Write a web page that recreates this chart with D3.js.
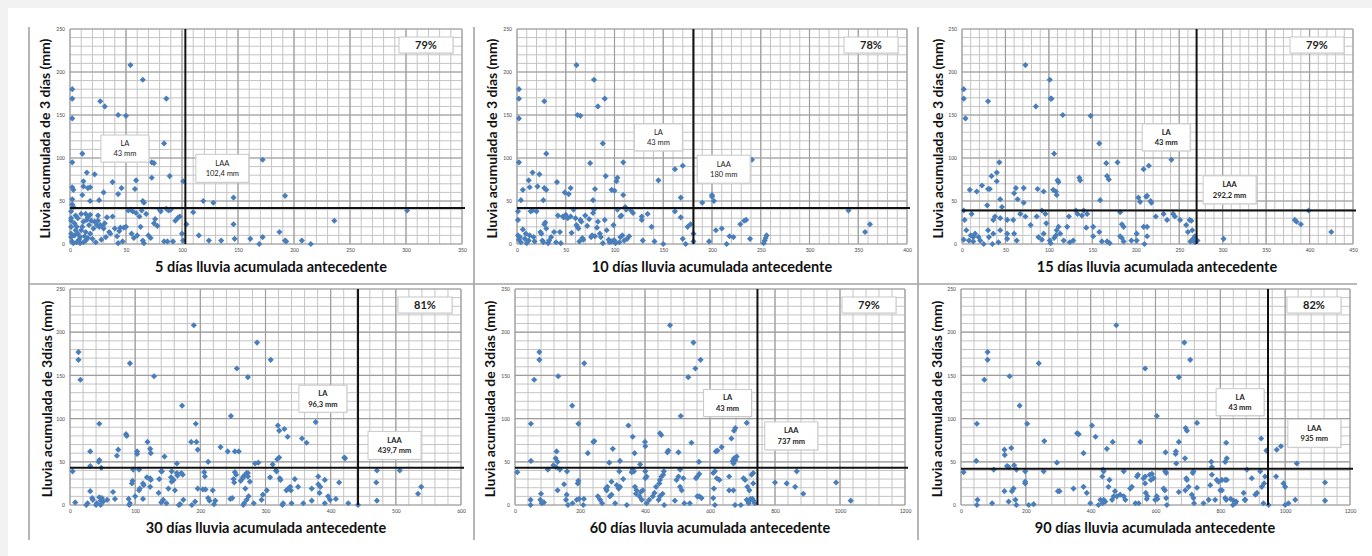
<!DOCTYPE html>
<html lang="es">
<head>
<meta charset="utf-8">
<script src="https://d3js.org/d3.v7.min.js"></script>
<style>
  body { margin: 0; background: #fff; }
  text { font-family: Lato, "Open Sans", sans-serif; }
</style>
</head>
<body>
<script>
// ---- datos ----
const xTitles = [
  "5 días lluvia acumulada antecedente",
  "10 días lluvia acumulada antecedente",
  "15 días lluvia acumulada antecedente",
  "30 días lluvia acumulada antecedente",
  "60 días lluvia acumulada antecedente",
  "90 días lluvia acumulada antecedente"
];
const yTitles = [
  "Lluvia acumulada de 3 días (mm)",
  "Lluvia acumulada de 3 días (mm)",
  "Lluvia acumulada de 3 días (mm)",
  "Lluvia acumulada de 3días (mm)",
  "Lluvia acumulada de 3días (mm)",
  "Lluvia acumulada de 3días (mm)"
];
const xMaxes = [350, 400, 450, 600, 1200, 1200];
const xMajor = [50, 50, 50, 100, 200, 200];
const xMinor = [10, 10, 10, 20, 40, 40];
const yMax = 250;
const laLines = [42, 42, 39, 43, 43, 42];
const laaLines = [103, 181, 270, 442, 746, 947];
const laTexts = ["43 mm", "43 mm", "43 mm", "96,3 mm", "43 mm", "43 mm"];
const laaTexts = ["102,4 mm", "180 mm", "292,2 mm", "439,7 mm", "737 mm", "935 mm"];
const percents = ["79%", "78%", "79%", "81%", "79%", "82%"];

const pts5 = [
  [54,208],[65,191],[2,180],[2,169],[27,166],[31,160],[86,169],[2,146],[43,150],[50,149],
  [84,117],[11,105],[2,95],[73,95],[75,94],[172,98],[101,73],[89,79],[73,77],[15,83],
  [22,81],[12,73],[38,72],[59,74],[2,66],[3,63],[12,67],[16,65],[18,66],[46,65],
  [30,60],[58,64],[43,58],[11,57],[65,50],[66,48],[26,51],[18,50],[2,52],[2,46],
  [119,50],[128,48],[146,54],[192,56],[301,39],[236,27],[110,37],[104,23],[146,23],[187,14],
  [115,10],[124,4],[135,4],[147,6],[161,6],[169,0],[172,8],[192,4],[193,3],[207,4],
  [215,0],[101,4],[100,12],
  [1,38],[1,30],[1,27],[1,20],[1,12],[1,8],[2,3],[3,1],[4,10],[5,16],[6,20],[7,12],[8,5],
  [9,8],[10,16],[11,20],[12,2],[12,26],[13,9],[14,14],[15,28],[16,31],[17,22],[18,12],
  [19,27],[20,6],[21,18],[22,26],[23,2],[24,22],[25,27],[26,20],[27,22],[28,5],[29,20],
  [30,18],[31,24],[32,8],[33,31],[35,14],[36,12],[38,32],[40,18],[42,9],[43,1],[44,15],
  [45,19],[47,3],[48,19],[50,20],[52,39],[54,40],[55,12],[56,38],[57,7],[59,36],[60,10],
  [62,32],[63,20],[64,39],[65,4],[66,1],[68,35],[70,10],[72,7],[75,24],[76,29],[78,21],
  [80,40],[81,38],[84,3],[86,41],[87,3],[88,39],[90,40],[92,3],[94,27],[96,30],[98,32],
  [3,43],[5,33],[10,35],[14,35],[18,34],[25,33],[6,2],[9,1],[14,4],[16,7],[4,24],[7,30]
];
const pts10 = [
  [61,208],[79,191],[2,180],[2,169],[28,166],[83,160],[90,169],[2,146],[62,150],[65,149],
  [88,117],[30,105],[2,95],[75,94],[109,95],[241,98],[91,79],[103,77],[102,73],[80,64],
  [145,74],[162,87],[170,91],[16,83],[23,81],[12,74],[41,72],[6,63],[13,66],[21,67],
  [28,65],[30,63],[49,60],[53,58],[55,65],[97,63],[100,62],[109,57],[78,51],[27,51],
  [4,51],[168,54],[200,55],[200,57],[202,50],[190,48],[340,39],[362,23],[357,14],[233,27],
  [235,28],[229,23],[210,18],[204,16],[239,6],[218,9],[222,8],[215,0],[197,3],[254,4],
  [255,7],[256,10],[253,1],[181,3],[181,12],[178,23],[175,20],[168,31],[162,38],[170,6],
  [173,0],[150,0],[141,3],[138,20],[128,28],[128,32],[129,4],[117,39],[119,36],[134,35],
  [111,43],[106,32],[99,22],[106,8],[115,9],
  [1,38],[1,28],[1,10],[2,5],[3,8],[4,2],[6,17],[8,6],[9,12],[10,1],[12,4],[13,10],
  [14,38],[16,39],[17,8],[18,3],[20,38],[24,14],[25,12],[26,4],[27,2],[28,23],[29,25],
  [30,18],[32,1],[33,4],[35,8],[38,14],[40,2],[42,33],[44,14],[45,1],[47,32],[48,31],
  [50,34],[52,30],[55,32],[56,13],[58,40],[60,30],[61,22],[62,20],[63,18],[64,3],[65,28],
  [66,26],[67,7],[68,5],[70,33],[72,21],[74,29],[76,8],[77,10],[78,36],[79,40],[80,9],
  [82,19],[83,26],[85,12],[86,8],[88,1],[90,28],[92,16],[94,5],[95,2],[97,3],[99,4],
  [100,4],[101,1],[103,40],[105,2],[107,33],[108,10],[110,4],[112,40],[113,6]
];
const pts15 = [
  [73,208],[101,191],[2,180],[2,169],[30,166],[85,160],[102,169],[103,169],[4,146],[116,150],
  [148,149],[158,117],[106,105],[43,95],[166,94],[179,95],[241,98],[209,87],[215,91],[167,79],
  [169,75],[111,72],[110,74],[135,77],[136,74],[34,79],[40,83],[44,52],[40,73],[23,68],
  [30,64],[32,64],[9,63],[17,61],[60,59],[62,65],[71,65],[87,64],[94,61],[105,63],
  [108,61],[109,57],[64,52],[71,48],[159,51],[203,54],[205,49],[212,55],[213,56],[217,50],
  [218,48],[29,45],[46,43],[399,39],[383,28],[385,26],[390,23],[425,14],[301,6],[268,2],
  [271,4],[260,14],[265,16],[262,28],[264,27],[251,28],[245,32],[243,35],[236,28],[232,35],
  [223,32],[213,20],[209,20],[213,9],[210,0],[201,12],[201,4],[195,4],[186,3],[182,9],
  [184,7],[186,20],[184,23],[182,37],[158,14],[161,3],[167,3],[170,1],[151,9],[143,19],
  [138,33],[140,39],[144,35],[131,39],[133,35],[123,32],[121,20],[113,12],[117,4],[106,7],
  [108,10],[101,4],[102,1],[94,12],[97,24],[96,35],[92,39],[86,32],[79,22],[73,32],
  [67,35],[59,28],[63,4],[52,12],[52,6],[44,16],[42,2],[36,12],[35,0],[30,16],
  [31,8],[25,0],[21,4],[19,8],[15,12],[13,8],[13,3],[10,10],[8,4],[5,16],
  [3,28],[2,39],[2,5],[11,35],[36,28],[38,32],[44,30],[60,12],[52,28],[88,8],
  [92,5],[109,16],[111,20],[124,2],[128,4],[151,20],[266,6],[268,9],[263,3],[258,22]
];
const pts30 = [
  [190,208],[287,188],[13,177],[13,168],[16,145],[92,164],[129,149],[256,158],[273,148],[308,168],
  [172,115],[247,103],[193,94],[45,94],[377,96],[319,92],[321,86],[329,88],[334,79],[356,77],
  [363,72],[421,55],[422,54],[471,40],[506,40],[470,26],[539,21],[534,13],[471,5],[427,2],
  [442,0],[413,26],[408,7],[396,10],[399,6],[391,2],[391,29],[381,33],[381,24],[384,21],
  [383,14],[371,19],[371,5],[358,2],[345,30],[350,21],[338,21],[339,17],[332,17],[335,19],
  [340,2],[327,2],[326,0],[323,29],[322,31],[317,39],[316,40],[311,47],[318,53],[321,55],
  [302,17],[307,32],[296,12],[294,6],[284,48],[289,49],[282,2],[276,27],[273,33],[271,37],
  [269,35],[266,33],[265,31],[262,28],[273,37],[274,10],[271,6],[266,0],[267,2],[269,19],
  [253,62],[259,62],[253,38],[255,35],[252,26],[251,30],[249,8],[246,7],[242,62],[231,67],
  [212,50],[206,38],[207,33],[204,18],[208,18],[212,8],[214,5],[219,17],[223,5],[221,1],
  [194,73],[186,73],[196,64],[196,19],[192,4],[187,0],[174,6],[171,37],[173,35],[169,1],
  [167,0],[165,34],[164,37],[164,48],[161,17],[159,29],[156,27],[155,32],[156,39],[151,19],
  [145,56],[143,6],[148,2],[140,39],[141,39],[137,30],[136,14],[140,3],[119,73],[123,65],
  [124,60],[123,31],[124,29],[123,21],[118,32],[112,25],[113,23],[112,7],[106,41],[107,19],
  [106,17],[103,62],[103,59],[100,10],[96,28],[95,25],[97,41],[90,7],[92,2],[91,0],
  [86,82],[87,80],[74,64],[72,57],[69,7],[66,15],[57,6],[48,43],[49,8],[51,4],
  [44,50],[45,52],[45,9],[47,0],[41,2],[40,0],[31,62],[31,45],[31,16],[35,6],
  [34,8],[25,0],[27,2],[8,3],[4,39],[47,5]
];
const pts60 = [
  [477,208],[549,188],[571,168],[555,158],[533,148],[75,177],[75,168],[59,145],[133,149],[213,164],
  [176,115],[49,94],[49,51],[195,94],[349,92],[362,79],[510,103],[543,72],[472,63],[469,61],
  [503,61],[618,62],[623,63],[636,67],[666,77],[674,86],[678,89],[713,95],[566,50],[674,54],
  [678,52],[682,56],[670,51],[672,48],[508,41],[458,39],[385,47],[368,60],[401,68],[400,73],
  [446,83],[450,81],[241,73],[244,74],[224,60],[301,65],[290,49],[323,51],[359,38],[319,19],
  [323,21],[297,12],[292,10],[308,2],[255,10],[262,6],[268,2],[212,7],[197,7],[190,6],
  [193,25],[195,28],[210,0],[177,2],[159,12],[157,6],[163,0],[151,24],[138,41],[131,17],
  [101,41],[82,2],[89,3],[80,13],[78,6],[48,6],[48,0],[7,38],[118,46],[126,44],
  [131,50],[128,62],[125,54],[160,39],[282,17],[284,21],[280,19],[297,27],[313,23],[321,39],
  [333,30],[344,0],[366,39],[362,41],[369,21],[374,17],[372,13],[383,10],[390,6],[387,15],
  [393,17],[401,31],[405,33],[401,39],[405,2],[413,6],[424,10],[429,14],[434,21],[442,6],
  [446,10],[451,33],[456,35],[446,29],[444,25],[454,13],[459,0],[492,5],[497,29],[503,33],
  [508,21],[513,17],[518,31],[521,2],[538,2],[557,31],[561,33],[567,36],[561,10],[567,10],
  [574,8],[610,37],[615,39],[612,19],[610,8],[615,0],[621,31],[629,29],[659,33],[659,17],
  [672,17],[677,0],[695,0],[703,31],[708,29],[715,21],[721,17],[718,4],[723,6],[725,7],
  [713,6],[719,2],[733,5],[731,7],[738,2],[728,35],[733,25],[733,37],[800,26],[836,25],
  [862,21],[867,39],[887,13],[988,26],[1033,5]
];
const pts90 = [
  [479,208],[689,188],[707,168],[568,158],[672,148],[82,177],[82,168],[72,145],[150,149],[240,164],
  [181,115],[49,94],[204,94],[257,74],[404,92],[415,79],[450,65],[358,83],[363,82],[378,60],
  [468,73],[604,103],[728,95],[693,89],[697,86],[672,73],[663,62],[662,59],[631,61],[691,54],
  [553,73],[818,72],[926,77],[942,63],[974,64],[987,68],[1036,48],[1123,26],[1123,5],[972,33],
  [995,25],[1000,21],[1000,0],[1010,2],[1031,6],[949,0],[935,25],[938,33],[928,21],[923,39],
  [897,31],[882,41],[875,6],[872,14],[908,12],[913,14],[933,2],[815,50],[820,54],[772,50],
  [774,44],[789,29],[794,27],[805,29],[815,29],[820,29],[774,35],[769,23],[800,17],[805,17],
  [815,8],[818,6],[832,7],[841,5],[846,2],[839,0],[849,4],[877,6],[784,6],[764,6],
  [748,2],[728,20],[715,37],[717,39],[702,21],[697,29],[695,31],[692,17],[712,12],[717,8],
  [719,2],[672,15],[664,48],[630,39],[633,37],[625,19],[629,17],[633,8],[635,0],[604,10],
  [599,6],[606,7],[594,31],[586,29],[582,35],[589,36],[573,7],[575,10],[570,14],[568,25],
  [563,31],[568,33],[546,35],[543,33],[548,2],[538,2],[527,21],[522,19],[502,39],[507,6],
  [502,10],[491,12],[481,10],[471,10],[466,6],[475,16],[458,29],[455,21],[440,39],[438,41],
  [436,33],[440,6],[437,2],[445,4],[424,0],[430,6],[399,2],[388,14],[378,21],[347,19],
  [304,16],[299,16],[296,49],[255,39],[224,1],[209,0],[198,25],[198,27],[198,39],[164,46],
  [171,41],[157,16],[162,19],[168,6],[171,0],[147,4],[134,16],[134,64],[135,58],[147,44],
  [142,45],[101,41],[96,2],[51,6],[49,0],[8,38],[47,51],[155,66]
];

// ---- maquetacion ----
const frames = [
  {l: 70, r: 462, t: 29, b: 244, ty: 45, txc: 271},
  {l: 517, r: 907, t: 29, b: 244, ty: 492, txc: 712},
  {l: 962, r: 1353, t: 29, b: 244, ty: 938, txc: 1157},
  {l: 70, r: 461, t: 289, b: 505, ty: 47, txc: 266},
  {l: 515, r: 905, t: 289, b: 505, ty: 490, txc: 710},
  {l: 961, r: 1350, t: 289, b: 505, ty: 937, txc: 1155}
];
// posicion de las cajas de texto, en unidades de datos (centro)
const laBoxes = [[49, 111], [145, 124], [235, 124], [388, 123], [654, 118], [861, 119]];
const laaBoxes = [[136, 88], [212, 87], [308, 63], [498, 69], [850, 80], [1090, 83]];
const boldBoxes = [false, false, true, true, true, true];
const allPts = [pts5, pts10, pts15, pts30, pts60, pts90];

const W = 1372, H = 556;
const svg = d3.select("body").append("svg")
  .attr("width", W).attr("height", H);

// fondo y bordes de la tabla
svg.append("rect").attr("width", W).attr("height", 8).attr("fill", "#f2f2f2");
svg.append("rect").attr("width", 8).attr("height", H).attr("fill", "#f2f2f2");
const border = "#a3a3a3";
[29, 474, 918].forEach(function(x) {
  svg.append("line").attr("x1", x).attr("x2", x).attr("y1", 27).attr("y2", 540)
    .attr("stroke", border).attr("stroke-width", 1.6);
});
svg.append("line").attr("x1", 29).attr("x2", 1357).attr("y1", 284).attr("y2", 284)
  .attr("stroke", border).attr("stroke-width", 1.6);

frames.forEach(function(f, i) {
  const g = svg.append("g");
  const x = d3.scaleLinear().domain([0, xMaxes[i]]).range([f.l, f.r]);
  const y = d3.scaleLinear().domain([0, yMax]).range([f.b, f.t]);

  // rejilla menor
  g.append("g").selectAll("line")
    .data(d3.range(0, xMaxes[i] + 0.01, xMinor[i]))
    .join("line")
    .attr("x1", d => x(d)).attr("x2", d => x(d))
    .attr("y1", f.t).attr("y2", f.b)
    .attr("stroke", "#c4c4c4").attr("stroke-width", 1);
  g.append("g").selectAll("line")
    .data(d3.range(0, yMax + 0.01, 10))
    .join("line")
    .attr("y1", d => y(d)).attr("y2", d => y(d))
    .attr("x1", f.l).attr("x2", f.r)
    .attr("stroke", "#c4c4c4").attr("stroke-width", 1);
  // rejilla mayor
  g.append("g").selectAll("line")
    .data(d3.range(0, xMaxes[i] + 0.01, xMajor[i]))
    .join("line")
    .attr("x1", d => x(d)).attr("x2", d => x(d))
    .attr("y1", f.t).attr("y2", f.b)
    .attr("stroke", "#9e9e9e").attr("stroke-width", 1.2);
  g.append("g").selectAll("line")
    .data(d3.range(0, yMax + 0.01, 50))
    .join("line")
    .attr("y1", d => y(d)).attr("y2", d => y(d))
    .attr("x1", f.l).attr("x2", f.r)
    .attr("stroke", "#9e9e9e").attr("stroke-width", 1.2);

  // ejes con etiquetas diminutas
  const xAxis = g.append("g")
    .attr("transform", "translate(0," + f.b + ")")
    .call(d3.axisBottom(x).tickValues(d3.range(0, xMaxes[i] + 0.01, xMajor[i]))
      .tickFormat(d3.format("d")).tickSize(0).tickPadding(4));
  const yAxis = g.append("g")
    .attr("transform", "translate(" + f.l + ",0)")
    .call(d3.axisLeft(y).tickValues(d3.range(0, yMax + 0.01, 50))
      .tickFormat(d3.format("d")).tickSize(0).tickPadding(5));
  [xAxis, yAxis].forEach(function(a) {
    a.select(".domain").remove();
    a.selectAll("text").attr("font-size", 5).attr("fill", "#444")
      .attr("font-family", "Lato, sans-serif");
  });

  // puntos
  g.append("g").selectAll("path")
    .data(allPts[i])
    .join("path")
    .attr("d", d3.symbol().type(d3.symbolSquare).size(19))
    .attr("transform", d => "translate(" + x(d[0]) + "," + y(d[1]) + ") rotate(45)")
    .attr("fill", "#4a7ebb");

  // umbrales
  g.append("line")
    .attr("x1", f.l).attr("x2", f.r + 3)
    .attr("y1", y(laLines[i])).attr("y2", y(laLines[i]))
    .attr("stroke", "#111").attr("stroke-width", 2);
  g.append("line")
    .attr("x1", x(laaLines[i])).attr("x2", x(laaLines[i]))
    .attr("y1", f.t).attr("y2", f.b)
    .attr("stroke", "#111").attr("stroke-width", 2);

  // cajas de texto
  function box(cx, cy, w, h, lines, bold, size) {
    const bg = g.append("g").attr("transform", "translate(" + cx + "," + cy + ")");
    bg.append("rect")
      .attr("x", -w / 2 + 1).attr("y", -h / 2 + 1).attr("width", w).attr("height", h)
      .attr("fill", "#d9d9d9").attr("opacity", 0.6);
    bg.append("rect")
      .attr("x", -w / 2).attr("y", -h / 2).attr("width", w).attr("height", h)
      .attr("fill", "#fff").attr("stroke", "#c8c8c8").attr("stroke-width", 1);
    const t = bg.append("text")
      .attr("text-anchor", "middle")
      .attr("font-size", size)
      .attr("font-weight", bold ? "bold" : "normal")
      .attr("fill", "#222");
    const step = size + 3;
    lines.forEach(function(s, k) {
      t.append("tspan").attr("x", 0)
        .attr("y", (k - (lines.length - 1) / 2) * step + size * 0.35)
        .text(s);
    });
  }
  box(x(laBoxes[i][0]), y(laBoxes[i][1]), 48, 27, ["LA", laTexts[i]], boldBoxes[i], 7.5);
  box(x(laaBoxes[i][0]), y(laaBoxes[i][1]), 53, 28, ["LAA", laaTexts[i]], boldBoxes[i], 7.5);
  box(f.r - 36, f.t + 16, 54, 16, [percents[i]], true, 11);

  // titulos de ejes
  g.append("text")
    .attr("x", f.txc).attr("y", f.b + 28)
    .attr("text-anchor", "middle")
    .attr("font-size", 14.5).attr("font-weight", "bold").attr("fill", "#111")
    .text(xTitles[i]);
  g.append("text")
    .attr("transform", "translate(" + f.ty + "," + ((f.t + f.b) / 2 + 2) + ") rotate(-90)")
    .attr("text-anchor", "middle")
    .attr("dy", "0.35em")
    .attr("font-size", 14).attr("font-weight", "bold").attr("fill", "#111")
    .text(yTitles[i]);
});
</script>
</body>
</html>
